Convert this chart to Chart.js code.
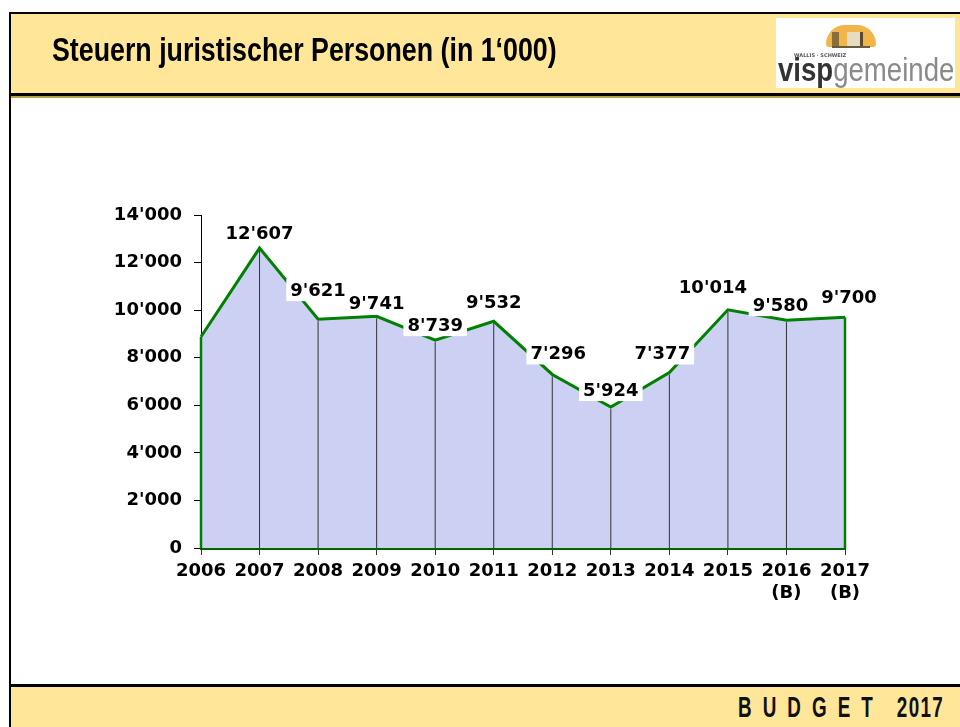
<!DOCTYPE html>
<html>
<head>
<meta charset="utf-8">
<script src="https://cdn.jsdelivr.net/npm/chart.js@4/dist/chart.umd.min.js"></script>
<style>
  html, body { margin: 0; padding: 0; background: #fff; }
  #page { position: relative; width: 960px; height: 727px; overflow: hidden; }
  #chart { position: absolute; left: 0; top: 0; }
  .frame-left { position: absolute; left: 9px; top: 12px; width: 2px; height: 715px; background: #000; }
  .header { position: absolute; left: 9px; top: 12px; width: 960px; height: 79px; background: #ffe699;
            border-top: 2px solid #000; border-bottom: 3px solid #000; box-shadow: 0 2px 0 #b8a040; }
  .title { position: absolute; left: 43px; top: 16px; font: bold 34px "Liberation Sans", sans-serif;
           color: #000; white-space: nowrap; transform-origin: left center; }
  .logo { position: absolute; left: 767px; top: 4px; width: 179px; height: 70px; background: #fff; }
  .logo .sun { position: absolute; left: 50px; top: 7px; width: 50px; height: 22px; background: #f2b54a;
               border-radius: 25px 25px 4px 4px; }
  .logo .town { position: absolute; left: 56px; top: 14px; width: 38px; height: 14px;
                border-bottom: 2px solid #6b5a3a; background: linear-gradient(90deg, #8a6d3b 0 18%, transparent 18% 40%, #e6dcc4 40% 75%, #5a4a30 75% 82%, transparent 82%); }
  .logo .small { position: absolute; left: 18px; top: 34px; font: bold 5px "DejaVu Sans", sans-serif; color: #555; }
  .logo .word { position: absolute; left: 2px; top: 34px; font: 34px "Liberation Sans", sans-serif;
                white-space: nowrap; transform-origin: left center; line-height: 34px; }
  .logo .visp { font-weight: bold; color: #333; }
  .logo .gem { color: #8a8a8a; }
  .footer { position: absolute; left: 9px; top: 684px; width: 960px; height: 43px; background: #ffe699;
            border-top: 3px solid #000; }
  .budget { position: absolute; left: 729px; top: 4px; font: bold 29px "Liberation Sans", sans-serif;
            color: #111; white-space: nowrap; transform-origin: left center; }
  .budget .sp { letter-spacing: 17px; }
  .budget .yr { letter-spacing: 2px; margin-left: 20px; }
</style>
</head>
<body>
<div id="page">
  <canvas id="chart" width="960" height="727"></canvas>
  <div class="header">
    <div class="title" id="title">Steuern juristischer Personen (in 1‘000)</div>
    <div class="logo">
      <div class="sun"></div>
      <div class="town"></div>
      <div class="small">WALLIS · SCHWEIZ</div>
      <div class="word" id="logoWord"><span class="visp">visp</span><span class="gem">gemeinde</span></div>
    </div>
  </div>
  <div class="footer"><div class="budget" id="budget"><span class="sp">BUDGET</span><span class="yr">2017</span></div></div>
  <div class="frame-left"></div>
</div>
<script>
// Steuern juristischer Personen, in CHF 1'000
const years = ['2006', '2007', '2008', '2009', '2010', '2011', '2012', '2013', '2014', '2015',
               ['2016', '(B)'], ['2017', '(B)']];
const taxes = [8880, 12607, 9621, 9741, 8739, 9532, 7296, 5924, 7377, 10014, 9580, 9700];
const yTicks = [0, 2000, 4000, 6000, 8000, 10000, 12000, 14000];

function fmt(v) {
    return String(v).replace(/\B(?=(\d{3})+(?!\d))/g, "'");
}

// squeeze the condensed header/footer texts to the reference widths
function fitWidth(id, w) {
    const el = document.getElementById(id);
    el.style.transform = 'scaleX(' + (w / el.offsetWidth) + ')';
}
fitWidth('title', 505);
fitWidth('logoWord', 176);
fitWidth('budget', 206);

const axisFont = { family: 'DejaVu Sans', size: 18, weight: 'bold' };

// vertical lines from each point down to the axis
const dropLines = {
    id: 'dropLines',
    afterDatasetsDraw(chart) {
        const ctx = chart.ctx;
        const meta = chart.getDatasetMeta(0);
        const bottom = chart.chartArea.bottom;
        const last = meta.data.length - 1;
        ctx.save();
        meta.data.forEach((pt, i) => {
            const edge = i === 0 || i === last;
            ctx.strokeStyle = edge ? '#008000' : '#333';
            ctx.lineWidth = edge ? 2.5 : 1;
            ctx.beginPath();
            ctx.moveTo(pt.x, pt.y + (edge ? 0 : 2));
            ctx.lineTo(pt.x, bottom);
            ctx.stroke();
        });
        ctx.restore();
    }
};

// value labels on white boxes (first year has no label in the original)
// placement nudges so labels clear the line, as in the original slide
const labelDx = [0, 0, 0, 0, 0, 0, 6, 0, -7, -15, -6, 4];
const labelDy = [0, -15, -29, -13, -15, -19, -21, -17, -19, -22, -15, -20];
const valueLabels = {
    id: 'valueLabels',
    afterDraw(chart) {
        const ctx = chart.ctx;
        const meta = chart.getDatasetMeta(0);
        ctx.save();
        ctx.font = 'bold 18px "DejaVu Sans"';
        ctx.textAlign = 'center';
        ctx.textBaseline = 'middle';
        meta.data.forEach((pt, i) => {
            if (i === 0) return;
            const txt = fmt(taxes[i]);
            const w = ctx.measureText(txt).width;
            const x = pt.x + labelDx[i];
            const y = pt.y + labelDy[i];
            ctx.fillStyle = '#fff';
            ctx.fillRect(x - w / 2 - 4, y - 11, w + 8, 22);
            ctx.fillStyle = '#000';
            ctx.fillText(txt, x, y + 1);
        });
        ctx.restore();
    }
};

new Chart(document.getElementById('chart').getContext('2d'), {
    type: 'line',
    data: {
        labels: years,
        datasets: [{
            data: taxes,
            borderColor: '#008000',
            borderWidth: 3,
            backgroundColor: 'rgb(204, 208, 242)',
            fill: 'origin',
            tension: 0,
            pointRadius: 0,
        }]
    },
    options: {
        responsive: false,
        animation: false,
        layout: { padding: { top: 215, right: 115, left: 0, bottom: 0 } },
        plugins: {
            legend: { display: false },
            tooltip: { enabled: false },
        },
        scales: {
            x: {
                offset: false,
                afterFit: s => { s.height = 179; },
                grid: { drawOnChartArea: false, drawTicks: true, tickLength: 7, color: '#333' },
                border: { color: '#006400', width: 3 },
                ticks: { color: '#000', font: axisFont, padding: 6, maxRotation: 0, autoSkip: false },
            },
            y: {
                min: 0,
                max: 14000,
                afterFit: s => { s.width = 201; },
                afterBuildTicks: s => { s.ticks = yTicks.map(v => ({ value: v })); },
                grid: { drawOnChartArea: false, drawTicks: true, tickLength: 7, color: '#000' },
                border: { color: '#000', width: 1 },
                ticks: { color: '#000', font: axisFont, padding: 12, callback: v => fmt(v) },
            }
        }
    },
    plugins: [dropLines, valueLabels]
});
</script>
</body>
</html>
